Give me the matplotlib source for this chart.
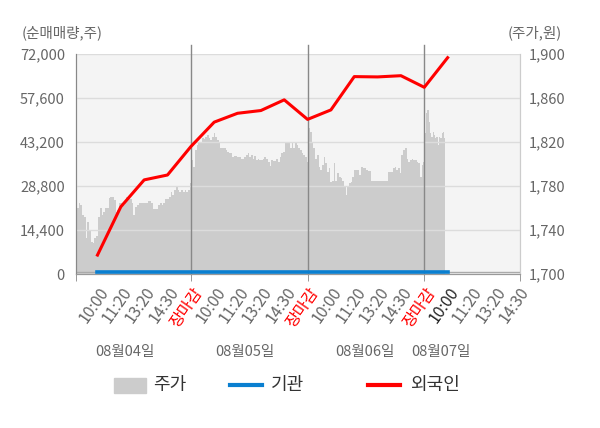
import numpy as np
import matplotlib
matplotlib.use('Agg')
import matplotlib.pyplot as plt
from matplotlib.lines import Line2D
from matplotlib.patches import Rectangle
import matplotlib.transforms as mtransforms

plt.rcParams['font.family'] = ['Noto Sans CJK KR', 'DejaVu Sans']

# price (주가) read per day, roughly evenly spaced in time
price_day1 = [1757, 1755, 1760, 1765, 1763, 1754, 1752, 1733, 1747, 1740, 1729, 1728, 1733, 1735,
              1752, 1760, 1754, 1756, 1760, 1760, 1769, 1770, 1770, 1767, 1756, 1758, 1765, 1765,
              1763, 1767, 1770, 1769, 1768, 1765, 1754, 1761, 1763, 1765, 1765, 1765, 1765, 1765,
              1766, 1766, 1765, 1759, 1759, 1759, 1763, 1765, 1763, 1765, 1768, 1768, 1770, 1775,
              1772, 1776, 1779, 1776, 1775, 1776, 1775, 1776, 1775, 1776, 1783]
price_day2 = [1826, 1804, 1797, 1813, 1817, 1819, 1820, 1824, 1823, 1825, 1826, 1824, 1822, 1825,
              1828, 1825, 1822, 1819, 1815, 1815, 1815, 1813, 1811, 1810, 1810, 1806, 1807, 1807,
              1806, 1806, 1805, 1805, 1806, 1808, 1810, 1806, 1808, 1805, 1807, 1804, 1805, 1804,
              1804, 1805, 1806, 1805, 1802, 1798, 1804, 1803, 1803, 1805, 1802, 1806, 1810, 1811,
              1819, 1819, 1819, 1815, 1819, 1815, 1819, 1817, 1815, 1813, 1810, 1808, 1806, 1802]
price_day3 = [1834, 1833, 1829, 1819, 1815, 1805, 1808, 1797, 1795, 1799, 1806, 1801, 1793, 1796,
              1784, 1785, 1801, 1785, 1792, 1788, 1787, 1785, 1779, 1772, 1779, 1783, 1784, 1788,
              1795, 1795, 1795, 1790, 1797, 1796, 1796, 1795, 1794, 1794, 1785, 1785, 1785, 1785,
              1785, 1785, 1785, 1785, 1785, 1785, 1793, 1793, 1793, 1796, 1797, 1795, 1796, 1792,
              1808, 1813, 1815, 1805, 1802, 1804, 1805, 1804, 1804, 1802, 1801, 1788, 1799, 1802]
price_day4 = [1820, 1828, 1846, 1849, 1838, 1828, 1825, 1829, 1826, 1824, 1825, 1817, 1825, 1824,
              1828, 1829, 1824]
price_days = [price_day1, price_day2, price_day3, price_day4]
day_end = [5, 10, 15, 15.88]   # last data time of each day, in slot units

# net buying (순매매량) at each labelled time slot, slots 1..16
foreign = [6200, 22000, 30800, 32400, 41700, 49700, 52600, 53500, 57000, 50600,
           53700, 64600, 64500, 64900, 61100, 70800]
inst = [500] * 16

slot_labels = ['10:00', '11:20', '13:20', '14:30', '장마감'] * 3 + ['10:00', '11:20', '13:20', '14:30']
dates = ['08월04일', '08월05일', '08월06일', '08월07일']
date_pos = [2.18, 7.32, 12.46, 15.7]

left_ticks = [0, 14400, 28800, 43200, 57600, 72000]
right_ticks = [1700, 1740, 1780, 1820, 1860, 1900]

fig = plt.figure(figsize=(6, 4.28), dpi=100)
ax2 = fig.add_axes([76 / 600, 1 - 274 / 428, 444 / 600, 220 / 428])
ax = ax2.twinx()
ax.set_zorder(ax2.get_zorder() + 1)
ax.patch.set_visible(False)
ax2.set_facecolor('#f4f4f4')

# price area on the right axis
for i, p in enumerate(price_days):
    xs = np.linspace(5 * i, day_end[i], len(p))
    ax2.fill_between(xs, 1700, p, color='#cccccc', lw=0, step='mid')
ax2.set_ylim(1700, 1900)
ax2.set_yticks(right_ticks)
ax2.set_yticklabels([f'{v:,}' for v in right_ticks])
ax2.yaxis.tick_right()
ax2.tick_params(axis='y', length=0, pad=6, labelsize=10.5, labelcolor='#666666')

slots = np.arange(1, len(foreign) + 1)
ax.yaxis.tick_left()
ax.grid(axis='y', color='#dcdcdc', lw=1)
ax.axhline(650, color='#aaaaaa', lw=1, zorder=1.5)
ax.plot(slots, inst, color='#0a7fd0', lw=2.6, zorder=3)
ax.plot(slots, foreign, color='#ff0000', lw=2.2, zorder=4)
ax.set_ylim(0, 72000)
ax.set_yticks(left_ticks)
ax.set_yticklabels([f'{v:,}' for v in left_ticks])
ax.tick_params(axis='y', length=0, pad=8, labelsize=10.5, labelcolor='#666666')

xlim = (0.08, 19.1)
ax.set_xlim(xlim)
for b in [5, 10, 15]:
    ax.axvline(b, ymin=0, ymax=1.04, color='#888888', lw=1, clip_on=False, zorder=2)

# labels at slots (major, no mark), tick marks at edges / day boundaries (minor)
ax2.xaxis.remove_overlapping_locs = False
ax2.set_xticks(np.arange(1, 20))
ax2.set_xticklabels(slot_labels, rotation=55, ha='right', va='center',
                    rotation_mode='anchor', fontsize=11.5)
ax2.tick_params(axis='x', which='major', length=0, pad=11)
ax2.set_xticks([xlim[0], 5, 10, 15, xlim[1]], minor=True)
ax2.tick_params(axis='x', which='minor', length=5, color='#888888')
offset = mtransforms.ScaledTranslation(8 / 100, 0, fig.dpi_scale_trans)
for i, lab in enumerate(ax2.get_xticklabels()):
    lab.set_transform(lab.get_transform() + offset)
    if slot_labels[i] == '장마감':
        lab.set_color('#ff0000')
    elif i == 15:
        lab.set_color('#222222')
    else:
        lab.set_color('#666666')

for a in (ax, ax2):
    a.spines['top'].set_visible(False)
    a.spines['left'].set_color('#888888')
    a.spines['right'].set_color('#cccccc')
    a.spines['bottom'].set_color('#999999')

for d, xp in zip(dates, date_pos):
    ax.text(xp, -0.355, d, transform=ax.get_xaxis_transform(), ha='center', va='center',
            fontsize=10.5, color='#666666')

fig.text(22 / 600, 1 - 33 / 428, '(순매매량,주)', ha='left', va='center', fontsize=10.5, color='#666666')
fig.text(562 / 600, 1 - 33 / 428, '(주가,원)', ha='right', va='center', fontsize=10.5, color='#666666')

# legend
ly = 1 - 385 / 428
fig.patches.append(Rectangle((114 / 600, 1 - 393 / 428), 32 / 600, 15 / 428,
                             transform=fig.transFigure, color='#cccccc'))
fig.lines.append(Line2D([230 / 600, 262 / 600], [ly, ly], transform=fig.transFigure,
                        color='#0a7fd0', lw=3))
fig.lines.append(Line2D([368 / 600, 400 / 600], [ly, ly], transform=fig.transFigure,
                        color='#ff0000', lw=3))
fig.text(153 / 600, ly, '주가', ha='left', va='center', fontsize=13, color='#333333')
fig.text(271 / 600, ly, '기관', ha='left', va='center', fontsize=13, color='#333333')
fig.text(410 / 600, ly, '외국인', ha='left', va='center', fontsize=13, color='#333333')

fig.savefig('out.png', dpi=100)
